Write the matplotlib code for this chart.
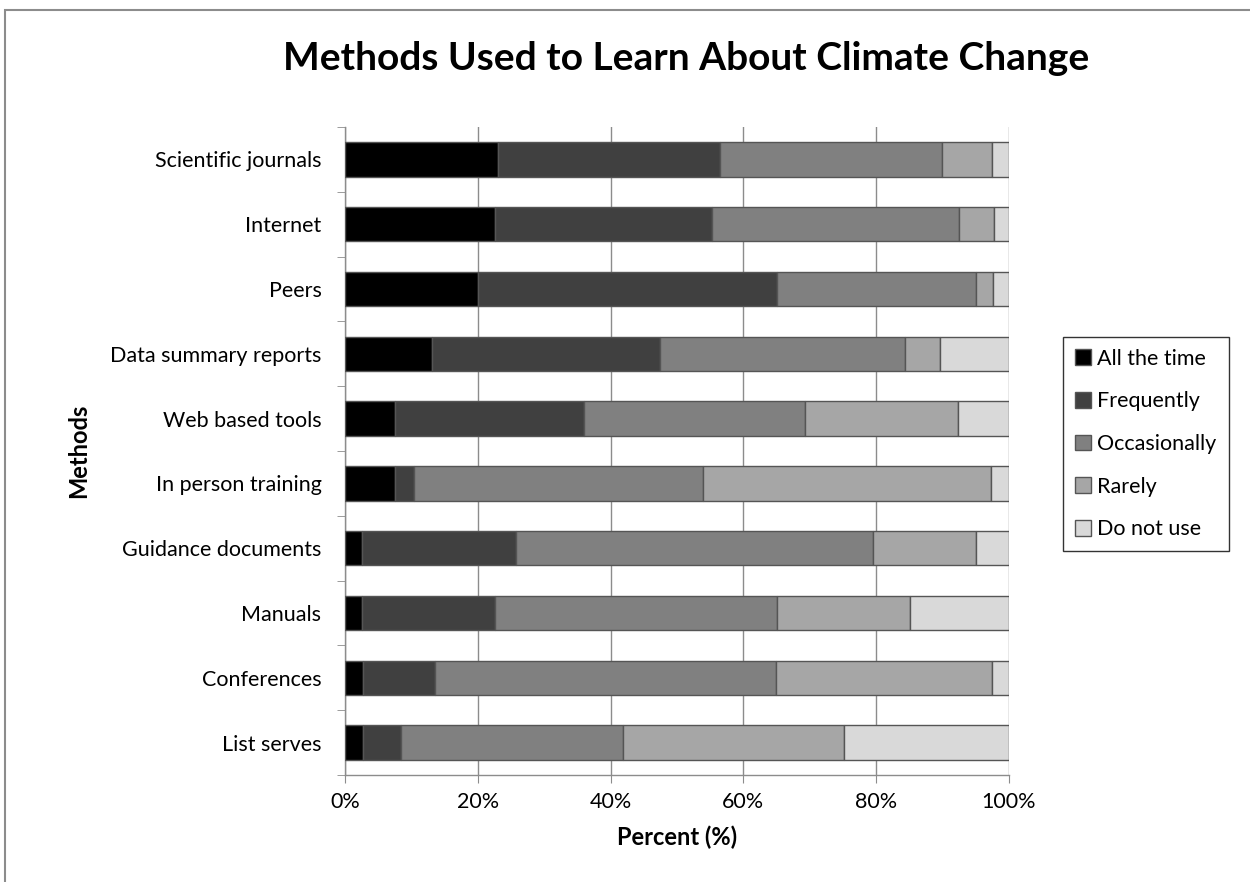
import matplotlib
matplotlib.use("Agg")
import matplotlib.pyplot as plt
from matplotlib.patches import Rectangle
from matplotlib.ticker import FixedLocator, PercentFormatter
import numpy as np

categories = ["Scientific journals", "Internet", "Peers", "Data summary reports",
              "Web based tools", "In person training", "Guidance documents",
              "Manuals", "Conferences", "List serves"]
series_names = ["All the time", "Frequently", "Occasionally", "Rarely", "Do not use"]
all_the_time = [23.1, 22.6, 20.0, 13.1, 7.6, 7.6, 2.5, 2.5, 2.7, 2.7]
frequently   = [33.4, 32.6, 45.1, 34.4, 28.4, 2.8, 23.2, 20.1, 10.8, 5.7]
occasionally = [33.4, 37.3, 30.0, 36.8, 33.3, 43.5, 53.8, 42.5, 51.4, 33.4]
rarely       = [7.5, 5.2, 2.5, 5.3, 23.0, 43.4, 15.5, 20.0, 32.5, 33.3]
do_not_use   = [2.6, 2.3, 2.4, 10.4, 7.7, 2.7, 5.0, 14.9, 2.6, 24.9]
xtick_values = [0, 20, 40, 60, 80, 100]

colors = ["#000000", "#404040", "#808080", "#a6a6a6", "#d9d9d9"]

plt.rcParams['font.family'] = ['Lato', 'DejaVu Sans']

fig = plt.figure(figsize=(12.5, 8.82), dpi=100)
ax = fig.add_axes([345/1250, 1-775/882, (1009-345)/1250, (775-127)/882])

# outer chart border
fig.patches.append(Rectangle((5/1250, -0.1), 1.2, 1-10/882+0.1, transform=fig.transFigure,
                             fill=False, edgecolor="#8c8c8c", linewidth=1.5, zorder=0))

data = [all_the_time, frequently, occasionally, rarely, do_not_use]
n = len(categories)
y = np.arange(n)[::-1]
left = np.zeros(n)
for name, vals, c in zip(series_names, data, colors):
    vals = np.array(vals)
    ax.barh(y, vals, left=left, height=0.53, color=c, edgecolor="#555555",
            linewidth=1.0, label=name, zorder=3)
    left += vals

ax.set_xlim(0, 100)
ax.set_ylim(-0.5, n - 0.5)
ax.xaxis.set_major_locator(FixedLocator(xtick_values))
ax.xaxis.set_major_formatter(PercentFormatter(decimals=0))
ax.set_yticks(y)
ax.set_yticklabels(categories)
ax.yaxis.set_minor_locator(FixedLocator(np.arange(-0.5, n, 1.0)))
ax.tick_params(axis='y', which='major', length=0, labelsize=15.5, pad=17)
ax.tick_params(axis='y', which='minor', length=6, color="#8c8c8c", direction='out')
ax.tick_params(axis='x', which='major', length=6, color="#8c8c8c", labelsize=15.5, pad=6)
ax.grid(axis='x', color="#8c8c8c", linewidth=1.0, zorder=0)
ax.set_axisbelow(True)
for s in ["top", "right"]:
    ax.spines[s].set_visible(False)
for s in ["left", "bottom"]:
    ax.spines[s].set_color("#8c8c8c")
    ax.spines[s].set_linewidth(1.0)

ax.set_xlabel("Percent (%)", fontsize=17, fontweight='bold', labelpad=10)
ax.set_ylabel("Methods", fontsize=17, fontweight='bold', labelpad=14)
fig.suptitle("Methods Used to Learn About Climate Change", fontsize=28,
             fontweight='bold', x=686/1250, y=1-58/882, va='center')

leg = ax.legend(loc='center left', bbox_to_anchor=(1063/1250, 1-444/882),
                bbox_transform=fig.transFigure, frameon=True, fancybox=False,
                edgecolor="#000000", fontsize=15.5, handlelength=0.75, handleheight=0.75,
                labelspacing=1.05, handletextpad=0.3, borderpad=0.55, borderaxespad=0)
leg.get_frame().set_linewidth(1.0)

fig.savefig("out.png", dpi=100, facecolor="white")
